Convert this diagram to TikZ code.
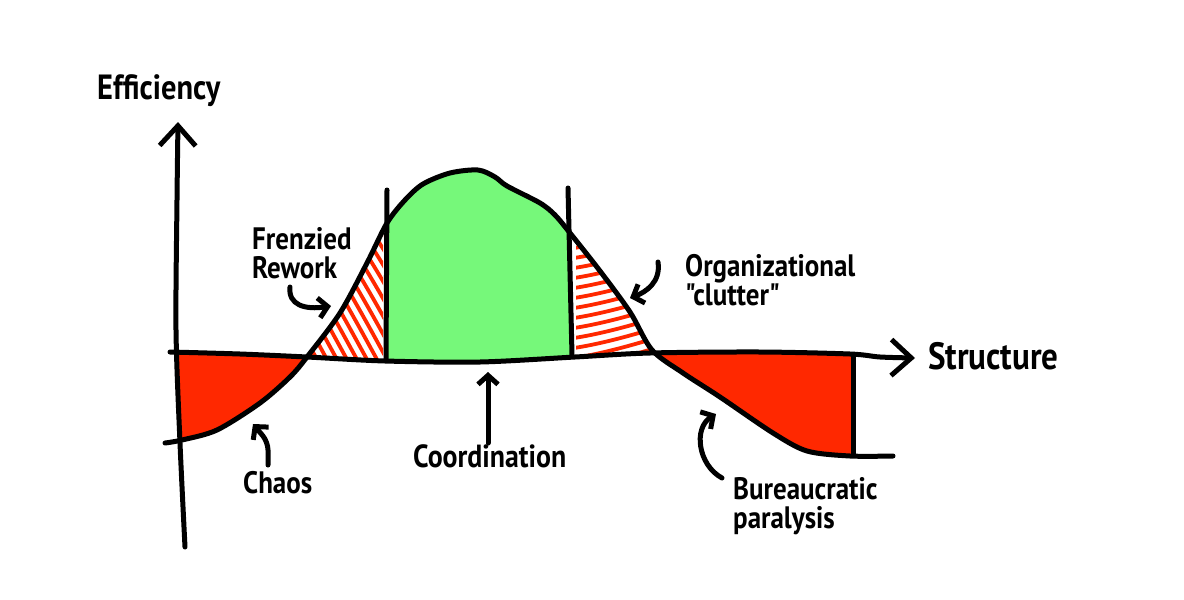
\documentclass[tikz,border=0pt]{standalone}
\usepackage{fontspec}
\setmainfont{PT Sans}[FakeStretch=0.87,Ligatures=TeXOff]
\usetikzlibrary{arrows.meta}
\definecolor{chaosred}{RGB}{255,40,0}
\definecolor{goodgreen}{RGB}{118,248,122}
\begin{document}
\begin{tikzpicture}[x=1pt,y=-1pt,line cap=round,line join=round,
  ink/.style={line width=5pt,black},
  hatchline/.style={line width=3.8pt,chaosred},
  lbl/.style={font=\fontsize{31}{29}\selectfont\bfseries,inner sep=0pt,anchor=north west,align=left},
  axlbl/.style={font=\fontsize{35}{35}\selectfont\bfseries,inner sep=0pt,anchor=north west},
  bigtip/.style={-{Straight Barb[length=20pt,width=36pt]}},
  smalltip/.style={-{Straight Barb[length=9pt,width=20pt]}}]
\useasboundingbox (0,0) rectangle (1184,600);
\fill[white] (0,0) rectangle (1184,600);

% red regions (below axis, above curve)
\begin{scope}
  \clip plot[smooth] coordinates {(170,352) (240,354) (307,357) (385,361) (480,362) (575,357) (650,353) (760,352) (850,354) (880,357) (915,358)} -- (915,600) -- (170,600) -- cycle;
  \clip plot[smooth] coordinates {(165,443) (182,440) (217,430) (260,403) (290,377) (307,357) (340,313) (367,263) (387,223) (405,200) (423,184) (450,173) (478,170) (495,177) (507,186) (540,203) (555,215) (570,233) (600,271) (630,312) (652,350) (683,373) (720,397) (773,433) (807,451) (850,456) (893,456)} -- (893,0) -- (165,0) -- cycle;
  \fill[chaosred] (178,0) rectangle (853,600);
\end{scope}

% green and hatched regions (above axis, below curve)
\begin{scope}
  \clip plot[smooth] coordinates {(170,352) (240,354) (307,357) (385,361) (480,362) (575,357) (650,353) (760,352) (850,354) (880,357) (915,358)} -- (915,0) -- (170,0) -- cycle;
  \clip plot[smooth] coordinates {(165,443) (182,440) (217,430) (260,403) (290,377) (307,357) (340,313) (367,263) (387,223) (405,200) (423,184) (450,173) (478,170) (495,177) (507,186) (540,203) (555,215) (570,233) (600,271) (630,312) (652,350) (683,373) (720,397) (773,433) (807,451) (850,456) (893,456)} -- (893,600) -- (165,600) -- cycle;
  \fill[goodgreen] (386,0) rectangle (571,600);
  \begin{scope}
    \clip (300,0) rectangle (383,600);
    \foreach \x in {200,210,...,400} {
      \draw[hatchline] (\x,200) .. controls (\x+40,255) and (\x+70,310) .. (\x+100,365);
    }
  \end{scope}
  \begin{scope}
    \clip (576,0) rectangle (660,600);
    \foreach \y in {228,238,...,390} {
      \draw[hatchline] (574,\y) .. controls (600,\y-4) and (630,\y-12) .. (662,\y-22);
    }
  \end{scope}
\end{scope}

% axes
\draw[ink,bigtip] plot[smooth] coordinates {(185,547) (180,443) (176,330) (177,200) (178,122)};
\draw[ink,bigtip] plot[smooth] coordinates {(170,352) (240,354) (307,357) (385,361) (480,362) (575,357) (650,353) (760,352) (850,354) (880,357) (915,358)};

% main curve
\draw[ink] plot[smooth] coordinates {(165,443) (182,440) (217,430) (260,403) (290,377) (307,357) (340,313) (367,263) (387,223) (405,200) (423,184) (450,173) (478,170) (495,177) (507,186) (540,203) (555,215) (570,233) (600,271) (630,312) (652,350) (683,373) (720,397) (773,433) (807,451) (850,456) (893,456)};

% vertical dividers
\draw[ink] (387,190) -- (386,359);
\draw[ink] (568,188) -- (572,355);
\draw[ink] (853,355) -- (853,455);

% labels
\node[axlbl] (eff) at (97,74) {Efficiency};
\node[axlbl,font=\fontsize{38}{38}\selectfont\bfseries] (str) at (928,342) {Structure};
\node[lbl] (frenzy) at (252,227) {Frenzied\\Rework};
\node[lbl] (clutter) at (685,254) {Organizational\\"clutter"};
\node[lbl] (chaos) at (243,471) {Chaos};
\node[lbl,font=\fontsize{32}{29}\selectfont\bfseries] (coord) at (413,444) {Coordination};
\node[lbl] (bureau) at (733,477) {Bureaucratic\\paralysis};

% label arrows
\coordinate (frenzyA) at (290,287);
\coordinate (frenzyT) at (331,306);
\draw[ink,smalltip] (frenzyA) .. controls (288,305) and (305,310) .. (frenzyT);
\coordinate (clutterA) at (658,262);
\coordinate (clutterT) at (630,298);
\draw[ink,smalltip] (clutterA) .. controls (661,282) and (646,292) .. (clutterT);
\coordinate (chaosA) at (268,465);
\coordinate (chaosT) at (253,424);
\draw[ink,smalltip,rounded corners=8pt] (chaosA) -- (268,442) -- (chaosT);
\coordinate (coordA) at (488,443);
\coordinate (coordT) at (488,372);
\draw[ink,smalltip] (coordA) -- (coordT);
\coordinate (bureauA) at (722,478);
\coordinate (bureauT) at (716,414);
\draw[ink,smalltip] (bureauA) .. controls (698,465) and (693,428) .. (bureauT);
\end{tikzpicture}
\end{document}
